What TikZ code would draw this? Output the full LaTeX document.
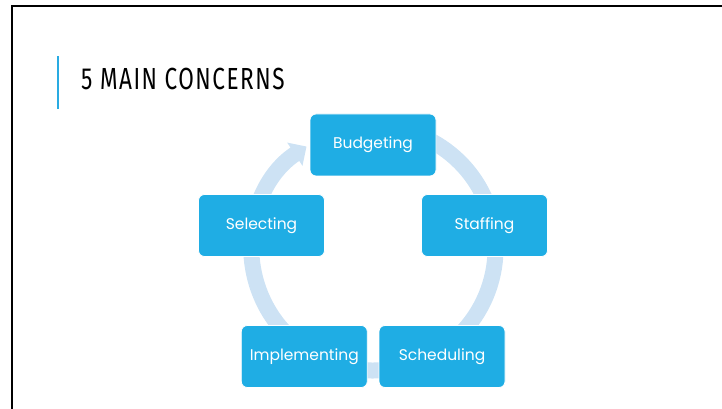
\documentclass[tikz,border=0pt]{standalone}
\usepackage{fontspec}
\usepackage{tikz}
\usetikzlibrary{arrows.meta}
\newfontfamily\titlefont[FakeStretch=0.74, LetterSpace=5]{Fira Sans}
\newfontfamily\boxfont{Poppins}
\definecolor{boxblue}{RGB}{31,173,228}
\definecolor{ringblue}{RGB}{205,226,244}
\definecolor{accentblue}{RGB}{41,171,226}

\begin{document}
\begin{tikzpicture}[x=1pt, y=1pt,
    every node/.style={inner sep=0pt},
    concern/.style={draw=white, line width=0.8pt, fill=boxblue, rounded corners=6pt,
        minimum width=126pt, minimum height=62pt, text=white, font=\boxfont\fontsize{15.5}{18}\selectfont},
    ring/.style={ringblue, line width=16pt, -{Triangle[width=27pt, length=14pt]}},
    frame/.style={black, line width=2.3pt}
]
\useasboundingbox (0,0) rectangle (722,409);
\draw[frame] (12,0) -- (12,403) -- (722,403);
\draw[accentblue, line width=1.5pt] (58,300) -- (58,353);
\node[anchor=base west, text=black] (title) at (81,319.7)
    {\titlefont\fontsize{30.5}{34}\selectfont 5 MAIN CONCERNS};

\coordinate (hub) at (373.5,160.5);
\draw[ring] ([shift={(115:122)}]hub) arc[start angle=115, end angle=-236.7, radius=122];

\node[concern] (budgeting)    at (373,264)    {Budgeting};
\node[concern] (staffing)     at (484.5,183.5) {Staffing};
\node[concern] (selecting)    at (261.5,183.5) {Selecting};
\node[concern] (implementing) at (304.3,52.5)  {Implementing};
\node[concern] (scheduling)   at (442,52.5)    {Scheduling};
\end{tikzpicture}
\end{document}
